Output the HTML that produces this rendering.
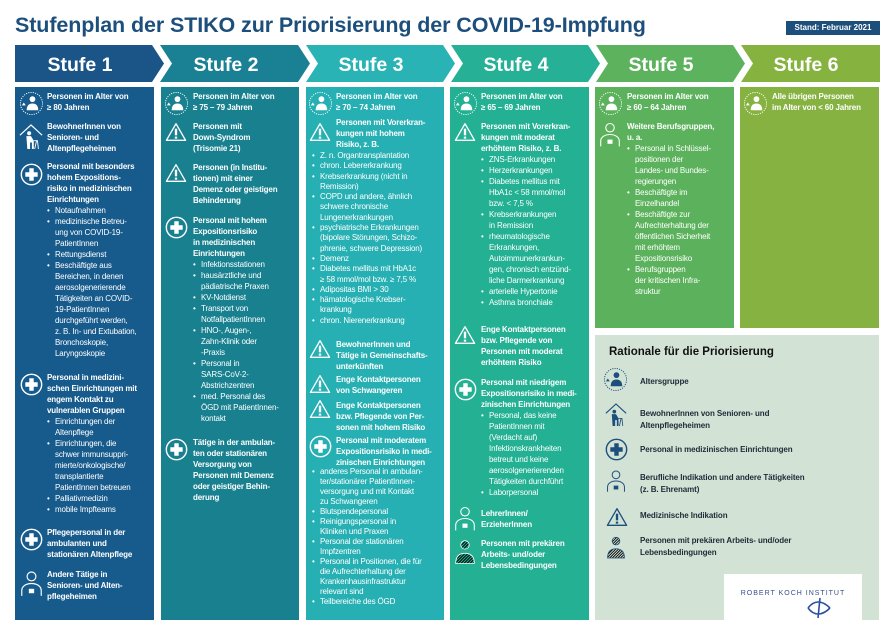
<!DOCTYPE html>
<html><head><meta charset="utf-8">
<style>
*{margin:0;padding:0;box-sizing:border-box}
body{width:895px;height:634px;background:#fff;position:relative;overflow:hidden;font-family:"Liberation Sans",sans-serif;}
.t{position:absolute;color:#fff;font-size:8px;line-height:11px;letter-spacing:-0.15px;white-space:nowrap}
.t b{font-weight:bold}
.b{position:relative;padding-left:8px}
.b:before{content:"•";position:absolute;left:0;top:0}
.tight{line-height:10.3px}
.ic{position:absolute}
.r{position:absolute;color:#1f2a36;font-size:8px;line-height:11.5px;font-weight:bold;white-space:nowrap;letter-spacing:-0.1px}
</style></head><body>
<svg width="0" height="0" style="position:absolute">
<defs>
<symbol id="age" viewBox="0 0 26 26"><circle cx="13" cy="13" r="11.5" fill="none" stroke="currentColor" stroke-width="1" stroke-dasharray="1.2 1.2"/><circle cx="14" cy="8.5" r="3" fill="currentColor"/><path d="M8 20c0-5 2.5-7 6-7s6 2 6 7z" fill="currentColor"/><path d="M3 15l2-3 2 3z" fill="currentColor"/></symbol>
<symbol id="tri" viewBox="0 0 26 24"><path d="M13 2L24.5 22H1.5Z" fill="none" stroke="currentColor" stroke-width="1.6" stroke-linejoin="round"/><rect x="11.6" y="8" width="2.8" height="8" fill="currentColor"/><rect x="11.6" y="17.5" width="2.8" height="2.5" fill="currentColor"/></symbol>
<symbol id="plus" viewBox="0 0 26 26"><circle cx="13" cy="13" r="11.5" fill="none" stroke="currentColor" stroke-width="1.6"/><path d="M10.5 6h5v4.5H20v5h-4.5V20h-5v-4.5H6v-5h4.5z" fill="currentColor"/></symbol>
<symbol id="work" viewBox="0 0 26 30"><circle cx="13" cy="7" r="5" fill="none" stroke="currentColor" stroke-width="1.3"/><path d="M2 29v-6c0-5 5-8 11-8s11 3 11 8v6" fill="none" stroke="currentColor" stroke-width="1.3"/><rect x="10" y="21" width="6" height="5" fill="currentColor"/></symbol>
<symbol id="house" viewBox="0 0 26 30"><path d="M1 13L13 2l12 11" fill="none" stroke="currentColor" stroke-width="1.3"/><circle cx="11" cy="11" r="2.2" fill="currentColor"/><path d="M8 14h5l3 5v9h-2v-7h-2v7h-3z" fill="currentColor"/><path d="M16 19h4l1 9M19 19l-2 9" fill="none" stroke="currentColor" stroke-width="1"/></symbol>
<symbol id="hatch" viewBox="0 0 26 30"><pattern id="hp" width="2.5" height="2.5" patternUnits="userSpaceOnUse" patternTransform="rotate(45)"><rect width="1.2" height="2.5" fill="currentColor"/></pattern><circle cx="13" cy="6" r="5" fill="url(#hp)" stroke="currentColor" stroke-width="1"/><path d="M2 28c0-9 5-12 11-12s11 3 11 12z" fill="url(#hp)" stroke="currentColor" stroke-width="1"/></symbol>
</defs></svg>

<div style="position:absolute;left:15px;top:13px;font-size:21.5px;font-weight:bold;color:#1d4f7c;letter-spacing:-0.1px;white-space:nowrap">Stufenplan der STIKO zur Priorisierung der COVID-19-Impfung</div>
<div style="position:absolute;left:786px;top:21px;width:94px;height:14px;background:#1d4f7c;color:#fff;font-size:8px;font-weight:bold;line-height:14px;text-align:center">Stand: Februar 2021</div>

<svg style="position:absolute;left:0;top:0" width="895" height="634">
<polygon points="15,45 152,45 164,63.5 152,82 15,82" fill="#1b5486"/>
<polygon points="160,45 298,45 310,63.5 298,82 160,82 172,63.5" fill="#1a8195"/>
<polygon points="306,45 443,45 455,63.5 443,82 306,82 318,63.5" fill="#29b3b5"/>
<polygon points="451,45 588,45 600,63.5 588,82 451,82 463,63.5" fill="#26b196"/>
<polygon points="596,45 733,45 745,63.5 733,82 596,82 608,63.5" fill="#5db35d"/>
<polygon points="741,45 880,45 880,82 741,82 753,63.5" fill="#86b23f"/>
<g fill="#fff" font-family="Liberation Sans" font-weight="bold" font-size="19.5" text-anchor="middle">
<text x="80" y="71">Stufe 1</text><text x="226" y="71">Stufe 2</text><text x="371" y="71">Stufe 3</text><text x="516" y="71">Stufe 4</text><text x="661" y="71">Stufe 5</text><text x="806" y="71">Stufe 6</text>
</g>
<rect x="15" y="87" width="139" height="533" fill="#175a8c"/>
<rect x="161" y="87" width="138" height="533" fill="#18808f"/>
<rect x="306" y="87" width="138" height="533" fill="#27b0b3"/>
<rect x="450" y="87" width="139" height="533" fill="#23b093"/>
<rect x="595" y="87" width="139" height="241" fill="#5cb15c"/>
<rect x="740" y="87" width="139" height="241" fill="#86b241"/>
<rect x="595" y="335" width="284" height="285" fill="#d2e3d6"/>
<rect x="724" y="574" width="138" height="46" fill="#fff"/>
<text x="793" y="595" font-family="Liberation Sans" font-size="7" letter-spacing="1" fill="#3a4d8a" text-anchor="middle">ROBERT KOCH INSTITUT</text>
<path d="M808 608c6-8 14-8 22 0M808 608c6 8 14 8 22 0M820 598l-2 20" stroke="#2b4fa0" stroke-width="1.6" fill="none"/>
</svg>

<div style="color:#fff">
<svg class="ic" style="left:19px;top:91px" width="25" height="25"><use href="#age"/></svg>
<svg class="ic" style="left:19px;top:123px" width="24" height="28"><use href="#house"/></svg>
<svg class="ic" style="left:20px;top:163px" width="23" height="23"><use href="#plus"/></svg>
<svg class="ic" style="left:20px;top:373px" width="23" height="23"><use href="#plus"/></svg>
<svg class="ic" style="left:20px;top:528px" width="23" height="23"><use href="#plus"/></svg>
<svg class="ic" style="left:20px;top:570px" width="23" height="27"><use href="#work"/></svg>

<svg class="ic" style="left:164px;top:91px" width="25" height="25"><use href="#age"/></svg>
<svg class="ic" style="left:165px;top:122px" width="22" height="20"><use href="#tri"/></svg>
<svg class="ic" style="left:165px;top:163px" width="22" height="20"><use href="#tri"/></svg>
<svg class="ic" style="left:165px;top:216px" width="23" height="23"><use href="#plus"/></svg>
<svg class="ic" style="left:165px;top:438px" width="23" height="23"><use href="#plus"/></svg>

<svg class="ic" style="left:308px;top:91px" width="25" height="25"><use href="#age"/></svg>
<svg class="ic" style="left:309px;top:122px" width="22" height="20"><use href="#tri"/></svg>
<svg class="ic" style="left:309px;top:339px" width="22" height="20"><use href="#tri"/></svg>
<svg class="ic" style="left:309px;top:374px" width="22" height="20"><use href="#tri"/></svg>
<svg class="ic" style="left:309px;top:399px" width="22" height="20"><use href="#tri"/></svg>
<svg class="ic" style="left:309px;top:435px" width="23" height="23"><use href="#plus"/></svg>

<svg class="ic" style="left:453px;top:91px" width="25" height="25"><use href="#age"/></svg>
<svg class="ic" style="left:454px;top:122px" width="22" height="20"><use href="#tri"/></svg>
<svg class="ic" style="left:454px;top:325px" width="22" height="20"><use href="#tri"/></svg>
<svg class="ic" style="left:454px;top:378px" width="23" height="23"><use href="#plus"/></svg>
<svg class="ic" style="left:454px;top:505px" width="22" height="27"><use href="#work"/></svg>
<svg class="ic" style="left:454px;top:539px" width="22" height="27"><use href="#hatch"/></svg>

<svg class="ic" style="left:598px;top:91px" width="25" height="25"><use href="#age"/></svg>
<svg class="ic" style="left:599px;top:121px" width="22" height="27"><use href="#work"/></svg>
<svg class="ic" style="left:743px;top:91px" width="25" height="25"><use href="#age"/></svg>
</div>
<div style="color:#1d4f7c">
<svg class="ic" style="left:603px;top:367px" width="25" height="25"><use href="#age"/></svg>
<svg class="ic" style="left:605px;top:401px" width="22" height="28"><use href="#house"/></svg>
<svg class="ic" style="left:605px;top:438px" width="23" height="23"><use href="#plus"/></svg>
<svg class="ic" style="left:606px;top:468px" width="20" height="26"><use href="#work"/></svg>
<svg class="ic" style="left:606px;top:507px" width="22" height="20"><use href="#tri"/></svg>
<svg class="ic" style="left:606px;top:535px" width="20" height="26"><use href="#hatch"/></svg>
</div>

<!-- Stufe 1 -->
<div class="t" style="left:47px;top:91px"><b>Personen im Alter von<br>≥ 80 Jahren</b></div>
<div class="t" style="left:47px;top:121px"><b>BewohnerInnen von<br>Senioren- und<br>Altenpflegeheimen</b></div>
<div class="t" style="left:47px;top:161px"><b>Personal mit besonders<br>hohem Expositions-<br>risiko in medizinischen<br>Einrichtungen</b>
<div class="b">Notaufnahmen</div><div class="b">medizinische Betreu-<br>ung von COVID-19-<br>PatientInnen</div><div class="b">Rettungsdienst</div><div class="b">Beschäftigte aus<br>Bereichen, in denen<br>aerosolgenerierende<br>Tätigkeiten an COVID-<br>19-PatientInnen<br>durchgeführt werden,<br>z. B. In- und Extubation,<br>Bronchoskopie,<br>Laryngoskopie</div></div>
<div class="t" style="left:47px;top:372px"><b>Personal in medizini-<br>schen Einrichtungen mit<br>engem Kontakt zu<br>vulnerablen Gruppen</b>
<div class="b">Einrichtungen der<br>Altenpflege</div><div class="b">Einrichtungen, die<br>schwer immunsuppri-<br>mierte/onkologische/<br>transplantierte<br>PatientInnen betreuen</div><div class="b">Palliativmedizin</div><div class="b">mobile Impfteams</div></div>
<div class="t" style="left:47px;top:527px"><b>Pflegepersonal in der<br>ambulanten und<br>stationären Altenpflege</b></div>
<div class="t" style="left:47px;top:569px"><b>Andere Tätige in<br>Senioren- und Alten-<br>pflegeheimen</b></div>

<!-- Stufe 2 -->
<div class="t" style="left:193px;top:91px"><b>Personen im Alter von<br>≥ 75 – 79 Jahren</b></div>
<div class="t" style="left:193px;top:121px"><b>Personen mit<br>Down-Syndrom<br>(Trisomie 21)</b></div>
<div class="t" style="left:193px;top:162px"><b>Personen (in Institu-<br>tionen) mit einer<br>Demenz oder geistigen<br>Behinderung</b></div>
<div class="t" style="left:193px;top:215px"><b>Personal mit hohem<br>Expositionsrisiko<br>in medizinischen<br>Einrichtungen</b>
<div class="b">Infektionsstationen</div><div class="b">hausärztliche und<br>pädiatrische Praxen</div><div class="b">KV-Notdienst</div><div class="b">Transport von<br>NotfallpatientInnen</div><div class="b">HNO-, Augen-,<br>Zahn-Klinik oder<br>-Praxis</div><div class="b">Personal in<br>SARS-CoV-2-<br>Abstrichzentren</div><div class="b">med. Personal des<br>ÖGD mit PatientInnen-<br>kontakt</div></div>
<div class="t" style="left:193px;top:437px"><b>Tätige in der ambulan-<br>ten oder stationären<br>Versorgung von<br>Personen mit Demenz<br>oder geistiger Behin-<br>derung</b></div>

<!-- Stufe 3 -->
<div class="t" style="left:336px;top:91px"><b>Personen im Alter von<br>≥ 70 – 74 Jahren</b></div>
<div class="t" style="left:336px;top:117px"><b>Personen mit Vorerkran-<br>kungen mit hohem<br>Risiko, z. B.</b></div>
<div class="t tight" style="left:312px;top:151px"><div class="b">Z. n. Organtransplantation</div><div class="b">chron. Lebererkrankung</div><div class="b">Krebserkrankung (nicht in<br>Remission)</div><div class="b">COPD und andere, ähnlich<br>schwere chronische<br>Lungenerkrankungen</div><div class="b">psychiatrische Erkrankungen<br>(bipolare Störungen, Schizo-<br>phrenie, schwere Depression)</div><div class="b">Demenz</div><div class="b">Diabetes mellitus mit HbA1c<br>≥ 58 mmol/mol bzw. ≥ 7,5 %</div><div class="b">Adipositas BMI &gt; 30</div><div class="b">hämatologische Krebser-<br>krankung</div><div class="b">chron. Nierenerkrankung</div></div>
<div class="t" style="left:336px;top:339px"><b>BewohnerInnen und<br>Tätige in Gemeinschafts-<br>unterkünften</b></div>
<div class="t" style="left:336px;top:374px"><b>Enge Kontaktpersonen<br>von Schwangeren</b></div>
<div class="t" style="left:336px;top:400px"><b>Enge Kontaktpersonen<br>bzw. Pflegende von Per-<br>sonen mit hohem Risiko</b></div>
<div class="t" style="left:336px;top:435px"><b>Personal mit moderatem<br>Expositionsrisiko in medi-<br>zinischen Einrichtungen</b></div>
<div class="t" style="left:312px;top:467px;line-height:10px"><div class="b">anderes Personal in ambulan-<br>ter/stationärer PatientInnen-<br>versorgung und mit Kontakt<br>zu Schwangeren</div><div class="b">Blutspendepersonal</div><div class="b">Reinigungspersonal in<br>Kliniken und Praxen</div><div class="b">Personal der stationären<br>Impfzentren</div><div class="b">Personal in Positionen, die für<br>die Aufrechterhaltung der<br>Krankenhausinfrastruktur<br>relevant sind</div><div class="b">Teilbereiche des ÖGD</div></div>

<!-- Stufe 4 -->
<div class="t" style="left:481px;top:91px"><b>Personen im Alter von<br>≥ 65 – 69 Jahren</b></div>
<div class="t" style="left:481px;top:121px"><b>Personen mit Vorerkran-<br>kungen mit moderat<br>erhöhtem Risiko, z. B.</b>
<div class="b">ZNS-Erkrankungen</div><div class="b">Herzerkrankungen</div><div class="b">Diabetes mellitus mit<br>HbA1c &lt; 58 mmol/mol<br>bzw. &lt; 7,5 %</div><div class="b">Krebserkrankungen<br>in Remission</div><div class="b">rheumatologische<br>Erkrankungen,<br>Autoimmunerkrankun-<br>gen, chronisch entzünd-<br>liche Darmerkrankung</div><div class="b">arterielle Hypertonie</div><div class="b">Asthma bronchiale</div></div>
<div class="t" style="left:481px;top:324px"><b>Enge Kontaktpersonen<br>bzw. Pflegende von<br>Personen mit moderat<br>erhöhtem Risiko</b></div>
<div class="t" style="left:481px;top:377px"><b>Personal mit niedrigem<br>Expositionsrisiko in medi-<br>zinischen Einrichtungen</b>
<div class="b">Personal, das keine<br>PatientInnen mit<br>(Verdacht auf)<br>Infektionskrankheiten<br>betreut und keine<br>aerosolgenerierenden<br>Tätigkeiten durchführt</div><div class="b">Laborpersonal</div></div>
<div class="t" style="left:481px;top:508px"><b>LehrerInnen/<br>ErzieherInnen</b></div>
<div class="t" style="left:481px;top:538px"><b>Personen mit prekären<br>Arbeits- und/oder<br>Lebensbedingungen</b></div>

<!-- Stufe 5 -->
<div class="t" style="left:627px;top:91px"><b>Personen im Alter von<br>≥ 60 – 64 Jahren</b></div>
<div class="t" style="left:627px;top:121px"><b>Weitere Berufsgruppen,<br>u. a.</b>
<div class="b">Personal in Schlüssel-<br>positionen der<br>Landes- und Bundes-<br>regierungen</div><div class="b">Beschäftigte im<br>Einzelhandel</div><div class="b">Beschäftigte zur<br>Aufrechterhaltung der<br>öffentlichen Sicherheit<br>mit erhöhtem<br>Expositionsrisiko</div><div class="b">Berufsgruppen<br>der kritischen Infra-<br>struktur</div></div>

<!-- Stufe 6 -->
<div class="t" style="left:772px;top:91px"><b>Alle übrigen Personen<br>im Alter von &lt; 60 Jahren</b></div>

<!-- Rationale -->
<div style="position:absolute;left:609px;top:346px;font-size:11.5px;font-weight:bold;color:#111;white-space:nowrap">Rationale für die Priorisierung</div>
<div class="r" style="left:640px;top:376px">Altersgruppe</div>
<div class="r" style="left:640px;top:408px">BewohnerInnen von Senioren- und<br>Altenpflegeheimen</div>
<div class="r" style="left:640px;top:444px">Personal in medizinischen Einrichtungen</div>
<div class="r" style="left:640px;top:472px">Berufliche Indikation und andere Tätigkeiten<br>(z. B. Ehrenamt)</div>
<div class="r" style="left:640px;top:510px">Medizinische Indikation</div>
<div class="r" style="left:640px;top:535px">Personen mit prekären Arbeits- und/oder<br>Lebensbedingungen</div>
</body></html>
